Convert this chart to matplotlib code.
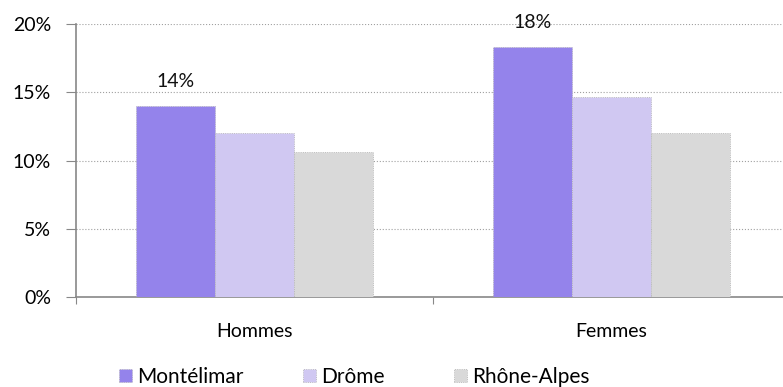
import numpy as np
import matplotlib.pyplot as plt

plt.rcParams['font.family'] = ['Lato', 'DejaVu Sans']

categories = ['Hommes', 'Femmes']
series = ['Montélimar', 'Drôme', 'Rhône-Alpes']
values = {
    'Montélimar': [14.0, 18.3],
    'Drôme': [12.0, 14.65],
    'Rhône-Alpes': [10.6, 12.0],
}
labels_shown = {'Montélimar': ['14%', '18%']}
colors = ['#9483EB', '#D0C8F2', '#D9D9D9']
yticks = [0, 5, 10, 15, 20]

fig = plt.figure(figsize=(7.83, 3.87), dpi=100)
ax = fig.add_axes([76 / 783, 1 - 297 / 387, (783 - 76) / 783, (297 - 24) / 387])

x = np.arange(len(categories))
width = 0.221
handles = []
for i, (name, col) in enumerate(zip(series, colors)):
    pos = x + (i - 1) * width
    bars = ax.bar(pos, values[name], width, color=col, edgecolor='#B0B0B0',
                  linewidth=0.6, linestyle=':', label=name, zorder=3)
    handles.append(bars)
    if name in labels_shown:
        for b, txt in zip(bars, labels_shown[name]):
            ax.text(b.get_x() + b.get_width() / 2, b.get_height() + 1.2, txt,
                    ha='center', va='bottom', fontsize=14, color='#111111')

ax.set_xlim(-0.5, 1.48)
ax.set_ylim(0, 20)
ax.set_yticks(yticks)
ax.set_yticklabels([f'{t}%' for t in yticks], fontsize=14)
ax.yaxis.grid(True, linestyle=':', color='#A0A0A0', linewidth=0.8, zorder=0)

# category labels centred, ticks on category boundaries
ax.set_xticks([-0.5, 0.5])
ax.set_xticklabels([])
ax.set_xticks(x, minor=True)
ax.set_xticklabels(categories, minor=True, fontsize=14)
ax.tick_params(axis='x', which='minor', length=0, pad=19)
ax.tick_params(axis='x', which='major', length=5, color='#888888', direction='out')
ax.tick_params(axis='y', length=7, color='#888888', direction='out', pad=11)

for s in ['top', 'right']:
    ax.spines[s].set_visible(False)
for s in ['left', 'bottom']:
    ax.spines[s].set_color('#888888')
    ax.spines[s].set_linewidth(1.2)

# one legend entry per series, spaced along the bottom
legend_x = [119, 303, 454]
for h, name, lx in zip(handles, series, legend_x):
    fig.legend(handles=[h], labels=[name], loc='lower left',
               bbox_to_anchor=(lx / 783, 0.0), frameon=False, fontsize=15,
               handlelength=0.62, handleheight=0.62, handletextpad=0.25,
               borderpad=0, borderaxespad=0)

fig.savefig('out.png', dpi=100)
